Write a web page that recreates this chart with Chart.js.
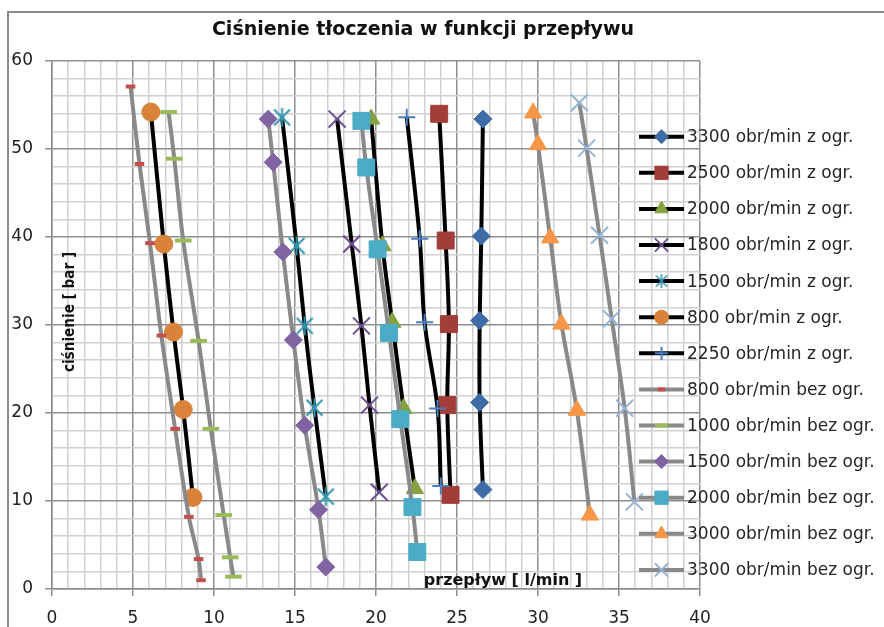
<!DOCTYPE html>
<html>
<head>
<meta charset="utf-8">
<script src="https://cdn.jsdelivr.net/npm/chart.js"></script>
<style>
html,body{margin:0;padding:0;background:#fff;}
#wrap{position:relative;width:884px;height:627px;}
canvas{display:block;}
</style>
</head>
<body>
<div id="wrap"><canvas id="c" width="884" height="627"></canvas></div>
<script>
// ---------- DATA ----------
const chartTitle = 'Ciśnienie tłoczenia w funkcji przepływu';
const xAxisTitle = 'przepływ [ l/min ]';
const yAxisTitle = 'ciśnienie [ bar ]';
const xTickLabels = [0, 5, 10, 15, 20, 25, 30, 35, 40];
const yTickLabels = [0, 10, 20, 30, 40, 50, 60];

const seriesNames = [
  '3300 obr/min z ogr.', '2500 obr/min z ogr.', '2000 obr/min z ogr.', '1800 obr/min z ogr.',
  '1500 obr/min z ogr.', '800 obr/min z ogr.', '2250 obr/min z ogr.', '800 obr/min bez ogr.',
  '1000 obr/min bez ogr.', '1500 obr/min bez ogr.', '2000 obr/min bez ogr.', '3000 obr/min bez ogr.',
  '3300 obr/min bez ogr.'
];

// flow [l/min] and pressure [bar] per series
const flow3300z = [26.6, 26.5, 26.4, 26.4, 26.6];
const pres3300z = [53.4, 40.1, 30.5, 21.2, 11.3];
const flow2500z = [23.9, 24.3, 24.5, 24.4, 24.6];
const pres2500z = [54.0, 39.6, 30.1, 20.9, 10.7];
const flow2000z = [19.7, 20.4, 21.0, 21.7, 22.4];
const pres2000z = [53.4, 39.0, 30.3, 20.5, 11.4];
const flow1800z = [17.6, 18.5, 19.1, 19.6, 20.2];
const pres1800z = [53.4, 39.2, 29.9, 20.9, 11.0];
const flow1500z = [14.2, 15.1, 15.6, 16.2, 16.9];
const pres1500z = [53.6, 39.0, 29.9, 20.6, 10.5];
const flow800z  = [6.1, 6.9, 7.5, 8.1, 8.7];
const pres800z  = [54.2, 39.2, 29.2, 20.4, 10.4];
const flow2250z = [21.9, 22.7, 23.0, 23.8, 24.0];
const pres2250z = [53.6, 39.8, 30.3, 20.5, 11.7];
const flow800b  = [4.85, 5.4, 6.05, 6.75, 7.6, 8.45, 9.05, 9.2];
const pres800b  = [57.1, 48.3, 39.3, 28.8, 18.2, 8.2, 3.4, 1.0];
const flow1000b = [7.2, 7.55, 8.1, 9.05, 9.8, 10.6, 11.0, 11.2];
const pres1000b = [54.2, 48.9, 39.6, 28.2, 18.2, 8.4, 3.6, 1.4];
const flow1500b = [13.35, 13.65, 14.25, 14.9, 15.6, 16.45, 16.9];
const pres1500b = [53.4, 48.5, 38.3, 28.3, 18.6, 9.0, 2.5];
const flow2000b = [19.1, 19.4, 20.1, 20.8, 21.5, 22.25, 22.55];
const pres2000b = [53.2, 47.9, 38.6, 29.1, 19.3, 9.3, 4.2];
const flow3000b = [29.7, 30.0, 30.75, 31.45, 32.4, 33.2];
const pres3000b = [54.1, 50.5, 39.9, 30.1, 20.3, 8.4];
const flow3300b = [32.55, 33.0, 33.8, 34.55, 35.35, 35.95];
const pres3300b = [55.25, 50.1, 40.2, 30.7, 20.55, 9.9];

const seriesFlow = [flow3300z, flow2500z, flow2000z, flow1800z, flow1500z, flow800z, flow2250z,
                    flow800b, flow1000b, flow1500b, flow2000b, flow3000b, flow3300b];
const seriesPres = [pres3300z, pres2500z, pres2000z, pres1800z, pres1500z, pres800z, pres2250z,
                    pres800b, pres1000b, pres1500b, pres2000b, pres3000b, pres3300b];

// ---------- STYLES ----------
const FONT = '"DejaVu Sans", sans-serif';
const BLACK = '#000000';
const GRAY = '#898989';
const MAJOR = '#8e8e8e';
const MINOR = '#d0d0d0';

function asterisk(size, color, lw) {
  const cv = document.createElement('canvas');
  cv.width = size; cv.height = size;
  const g = cv.getContext('2d');
  g.strokeStyle = color; g.lineWidth = lw;
  const m = size / 2, d = size / 2 - 2.5;
  g.beginPath();
  g.moveTo(m - d, m - d); g.lineTo(m + d, m + d);
  g.moveTo(m + d, m - d); g.lineTo(m - d, m + d);
  g.moveTo(m, 1); g.lineTo(m, size - 1);
  g.stroke();
  return cv;
}

const styles = [
  {line: BLACK, pt: 'rectRot',  r: 9,   fill: '#3E6CA7', bw: 1},
  {line: BLACK, pt: 'rect',     r: 12,  fill: '#A23D3A', bw: 1},
  {line: BLACK, pt: 'triangle', r: 10,  fill: '#86A13F', bw: 1},
  {line: BLACK, pt: 'crossRot', r: 12,  fill: '#6C4F90', bw: 2},
  {line: BLACK, pt: asterisk(21, '#3396AF', 2), lpt: asterisk(16, '#3396AF', 1.6), r: 10, fill: '#3396AF', bw: 2},
  {line: BLACK, pt: 'circle',   r: 9,   fill: '#D9833A', bw: 1},
  {line: BLACK, pt: 'cross',    r: 8.5, fill: '#4A7EBF', bw: 2},
  {line: GRAY,  pt: 'line',     r: 4.8, fill: '#C4504D', bw: 4},
  {line: GRAY,  pt: 'line',     r: 8.3, fill: '#9BBB59', bw: 4},
  {line: GRAY,  pt: 'rectRot',  r: 9,   fill: '#8064A2', bw: 1},
  {line: GRAY,  pt: 'rect',     r: 12,  fill: '#4BACC6', bw: 1},
  {line: GRAY,  pt: 'triangle', r: 10,  fill: '#F79646', bw: 1},
  {line: GRAY,  pt: 'crossRot', r: 12,  fill: '#95B3D7', bw: 2}
];

const n = seriesNames.length;
const datasets = seriesNames.map((name, i) => {
  const s = styles[i];
  return {
    label: name,
    data: seriesFlow[i].map((x, k) => ({x: x, y: seriesPres[i][k]})),
    borderColor: s.line,
    borderWidth: 4,
    tension: 0.33,
    fill: false,
    pointStyle: s.pt,
    pointRadius: s.r,
    pointHoverRadius: s.r,
    pointBackgroundColor: s.fill,
    pointBorderColor: s.fill,
    pointBorderWidth: s.bw,
    order: n - i,
    _legendStyle: s.lpt || s.pt
  };
});

// ---------- PLUGINS ----------
const framePlugin = {
  id: 'frame',
  beforeDraw(chart) {
    const c = chart.ctx;
    c.save();
    c.fillStyle = '#ffffff';
    c.fillRect(0, 0, chart.width, chart.height);
    c.strokeStyle = '#8a8a8a';
    c.lineWidth = 2;
    c.beginPath();
    c.moveTo(8, chart.height);
    c.lineTo(8, 12);
    c.lineTo(chart.width, 12);
    c.stroke();
    c.restore();
  }
};

const textPlugin = {
  id: 'texts',
  afterDraw(chart) {
    const c = chart.ctx;
    c.save();
    c.fillStyle = '#111';
    c.textAlign = 'center';
    c.textBaseline = 'middle';
    c.font = 'bold 19px ' + FONT;
    c.fillText(chartTitle, 423, 30);

    c.font = 'bold 16px ' + FONT;
    c.textBaseline = 'alphabetic';
    c.fillText(xAxisTitle, 503, 585);

    c.translate(70, 312);
    c.rotate(-Math.PI / 2);
    c.scale(0.85, 1);
    c.textBaseline = 'middle';
    c.fillText(yAxisTitle, 0, 0);
    c.restore();
  }
};

const legendPlugin = {
  id: 'customLegend',
  afterDraw(chart) {
    const c = chart.ctx;
    const x0 = 639, x1 = 684, mx = 661.5, tx = 687;
    const y0 = 136.7, dy = 36.1;
    chart.data.datasets.forEach((ds, i) => {
      const y = y0 + i * dy;
      c.save();
      c.strokeStyle = ds.borderColor;
      c.lineWidth = 4;
      c.lineCap = 'butt';
      c.beginPath(); c.moveTo(x0, y); c.lineTo(x1, y); c.stroke();
      c.fillStyle = ds.pointBackgroundColor;
      c.strokeStyle = ds.pointBorderColor;
      c.lineWidth = ds.pointBorderWidth;
      Chart.helpers.drawPoint(c, {
        pointStyle: ds._legendStyle,
        radius: ds.pointRadius * 0.78,
        rotation: 0,
        borderWidth: ds.pointBorderWidth
      }, mx, y);
      c.fillStyle = '#262626';
      c.font = '17px ' + FONT;
      c.textAlign = 'left';
      c.textBaseline = 'middle';
      c.fillText(ds.label, tx, y + 1);
      c.restore();
    });
  }
};

// ---------- CHART ----------
new Chart(document.getElementById('c'), {
  type: 'line',
  data: {datasets: datasets},
  options: {
    responsive: false,
    animation: false,
    events: [],
    layout: {padding: {left: 0, top: 61, right: 884 - 700, bottom: 0}},
    plugins: {
      legend: {display: false},
      title: {display: false},
      tooltip: {enabled: false}
    },
    scales: {
      x: {
        type: 'linear', min: 0, max: 40,
        ticks: {
          stepSize: 1, autoSkip: false, maxRotation: 0, minRotation: 0, padding: 12,
          color: '#222', font: {family: FONT, size: 17},
          callback: v => xTickLabels.includes(v) ? String(v) : ''
        },
        grid: {
          color: ctx => (ctx.tick && ctx.tick.value % 5 === 0) ? MAJOR : MINOR,
          lineWidth: 1.5,
          tickLength: 7,
          tickColor: ctx => (ctx.tick && ctx.tick.value % 5 === 0) ? MAJOR : 'rgba(0,0,0,0)'
        },
        border: {color: MAJOR, width: 1.5},
        afterFit: s => { s.height = 38; }
      },
      y: {
        type: 'linear', min: 0, max: 60,
        ticks: {
          stepSize: 2, autoSkip: false, padding: 12,
          color: '#222', font: {family: FONT, size: 17},
          callback: v => yTickLabels.includes(v) ? String(v) : ''
        },
        grid: {
          color: ctx => (ctx.tick && ctx.tick.value % 10 === 0) ? MAJOR : MINOR,
          lineWidth: 1.5,
          tickLength: 7,
          tickColor: ctx => (ctx.tick && ctx.tick.value % 10 === 0) ? MAJOR : 'rgba(0,0,0,0)'
        },
        border: {color: MAJOR, width: 1.5},
        afterFit: s => { s.width = 52; }
      }
    }
  },
  plugins: [framePlugin, textPlugin, legendPlugin]
});
</script>
</body>
</html>
